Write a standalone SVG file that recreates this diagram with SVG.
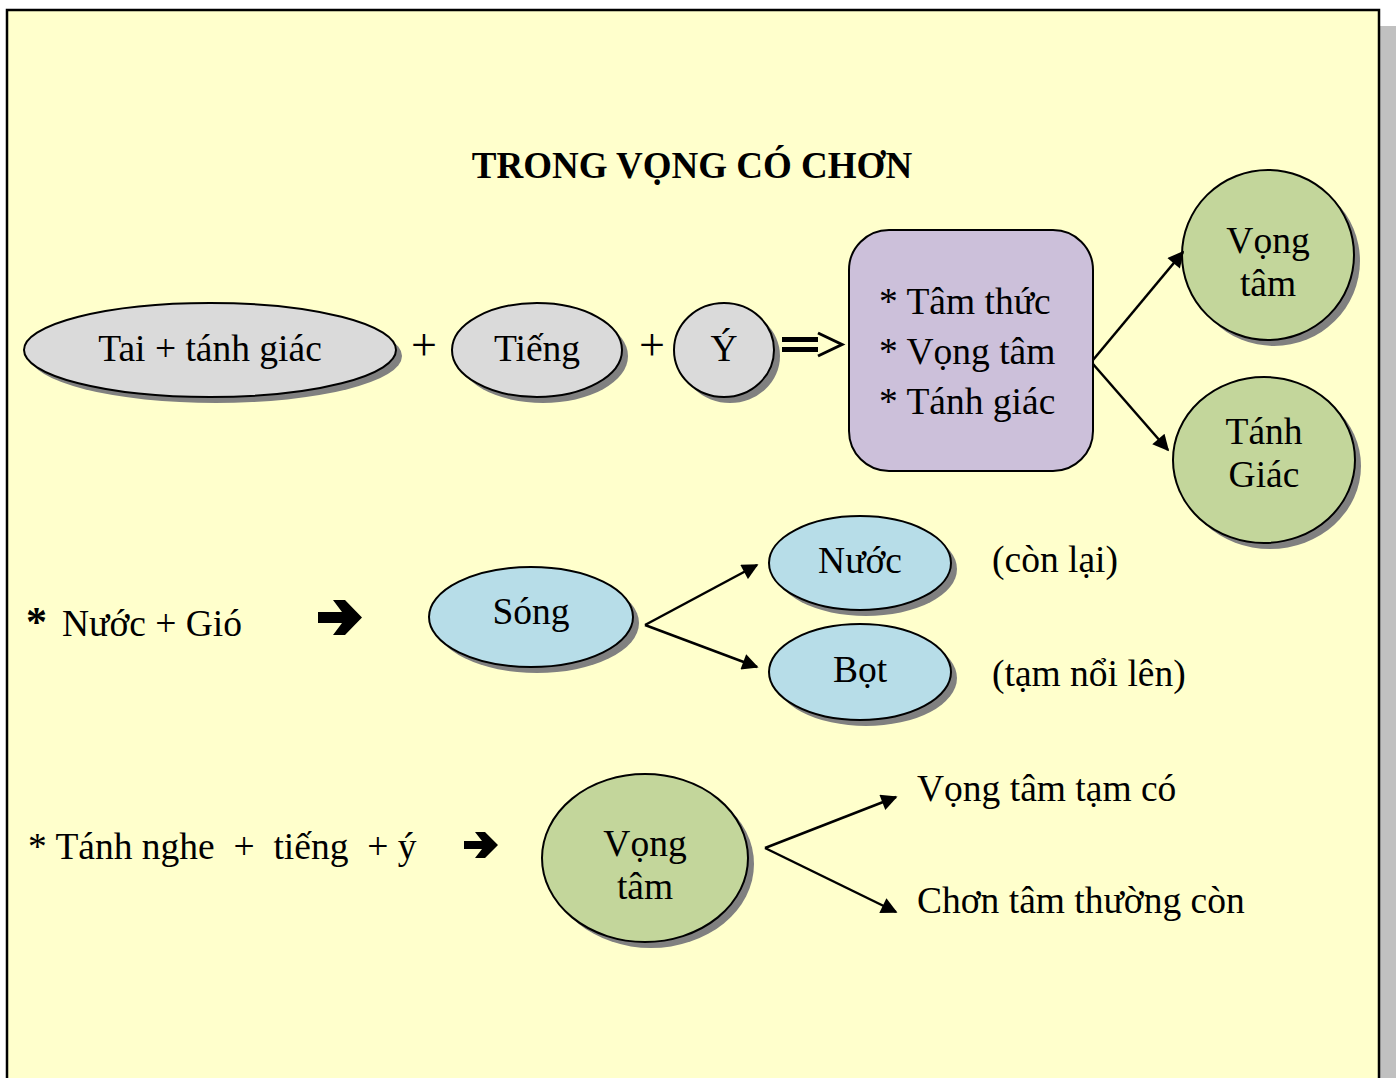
<svg xmlns="http://www.w3.org/2000/svg" width="1396" height="1078" viewBox="0 0 1396 1078">
<defs>
<style>
text{font-family:"Liberation Serif","Times New Roman",serif;fill:#000;}
.t{font-size:37.5px;text-anchor:middle;}
.l{font-size:37.5px;}
.plus{font-size:46px;text-anchor:middle;}
.sh{fill:#808080;}
.node{stroke:#000;stroke-width:2;}
.grey{fill:#dadada;}
.blue{fill:#b7dde8;}
.green{fill:#c3d69b;}
.conn line{stroke:#000;stroke-width:2.5;}
</style>
<marker id="ah" viewBox="0 0 10 10" refX="9" refY="5" markerWidth="7.5" markerHeight="6.5" orient="auto" markerUnits="strokeWidth">
<path d="M0,0 L10,5 L0,10 z" fill="#000"/>
</marker>
</defs>
<rect x="0" y="0" width="1396" height="1078" fill="#fff"/>
<rect x="1380" y="26" width="16" height="1052" fill="#c0c0c0"/>
<rect x="7" y="10" width="1372" height="1080" fill="#ffffcc" stroke="#000" stroke-width="2.5"/>
<text x="692" y="178" style="font-size:37px;font-weight:bold;text-anchor:middle;">TRONG VỌNG CÓ CHƠN</text>

<g id="n-tai">
<ellipse class="sh" cx="216" cy="356" rx="186" ry="47"/>
<ellipse class="node grey" cx="210" cy="350" rx="186" ry="47"/>
<text class="t" x="210" y="361">Tai + tánh giác</text>
</g>
<text class="plus" x="424" y="360">+</text>
<g id="n-tieng">
<ellipse class="sh" cx="543" cy="356" rx="85" ry="47"/>
<ellipse class="node grey" cx="537" cy="350" rx="85" ry="47"/>
<text class="t" x="537" y="361">Tiếng</text>
</g>
<text class="plus" x="652" y="360">+</text>
<g id="n-y">
<ellipse class="sh" cx="730" cy="356" rx="50" ry="47"/>
<ellipse class="node grey" cx="724" cy="350" rx="50" ry="47"/>
<text class="t" x="724" y="361">Ý</text>
</g>
<g id="implies">
<rect x="782" y="337" width="36" height="5" fill="#000"/>
<rect x="782" y="347" width="36" height="5" fill="#000"/>
<path d="M818,333 L842,344.5 L818,356" fill="none" stroke="#000" stroke-width="3"/>
</g>
<g id="n-box">
<rect x="849" y="230" width="244" height="241" rx="40" ry="40" fill="#ccc0da" stroke="#000" stroke-width="2"/>
<text class="l" x="879" y="314">* Tâm thức</text>
<text class="l" x="879" y="364">* Vọng tâm</text>
<text class="l" x="879" y="414">* Tánh giác</text>
</g>
<g id="n-vongtam1">
<ellipse class="sh" cx="1274" cy="261" rx="86" ry="85"/>
<ellipse class="node green" cx="1268" cy="255" rx="86" ry="85"/>
<text class="t" x="1268" y="253">Vọng</text>
<text class="t" x="1268" y="296">tâm</text>
</g>
<g id="n-tanhgiac">
<ellipse class="sh" cx="1270" cy="466" rx="91" ry="83"/>
<ellipse class="node green" cx="1264" cy="460" rx="91" ry="83"/>
<text class="t" x="1264" y="444">Tánh</text>
<text class="t" x="1264" y="487">Giác</text>
</g>

<g id="t-nuocgio">
<text x="26" y="636" style="font-size:42px;font-weight:bold;">*</text>
<text class="l" x="62" y="636">Nước + Gió</text>
</g>
<g id="arr1"><path d="M318,612 L342,612 L333,600 L345,600 L362,617.5 L345,635 L333,635 L342,623 L318,623 z" fill="#000"/></g>
<g id="n-song">
<ellipse class="sh" cx="537" cy="623" rx="102" ry="50"/>
<ellipse class="node blue" cx="531" cy="617" rx="102" ry="50"/>
<text class="t" x="531" y="624">Sóng</text>
</g>
<g id="n-nuoc">
<ellipse class="sh" cx="866" cy="569" rx="91" ry="47"/>
<ellipse class="node blue" cx="860" cy="563" rx="91" ry="47"/>
<text class="t" x="860" y="573">Nước</text>
</g>
<g id="n-bot">
<ellipse class="sh" cx="866" cy="678" rx="91" ry="48"/>
<ellipse class="node blue" cx="860" cy="672" rx="91" ry="48"/>
<text class="t" x="860" y="682">Bọt</text>
</g>
<text class="l" x="992" y="572">(còn lại)</text>
<text class="l" x="992" y="686">(tạm nổi lên)</text>

<text class="l" x="28" y="859" xml:space="preserve">* Tánh nghe  +  tiếng  + ý</text>
<g id="arr2"><path d="M464,841 L482,841 L475,832 L485,832 L498,845 L485,858 L475,858 L482,849 L464,849 z" fill="#000"/></g>
<g id="n-vongtam2">
<ellipse class="sh" cx="651" cy="864" rx="103" ry="84"/>
<ellipse class="node green" cx="645" cy="858" rx="103" ry="84"/>
<text class="t" x="645" y="856">Vọng</text>
<text class="t" x="645" y="899">tâm</text>
</g>
<text class="l" x="917" y="801">Vọng tâm tạm có</text>
<text class="l" x="917" y="913">Chơn tâm thường còn</text>

<g id="connectors" class="conn">
<line x1="1093" y1="360" x2="1183" y2="252" marker-end="url(#ah)"/>
<line x1="1093" y1="364" x2="1168" y2="450" marker-end="url(#ah)"/>
<line x1="645" y1="625" x2="757" y2="565" marker-end="url(#ah)"/>
<line x1="645" y1="625" x2="757" y2="667" marker-end="url(#ah)"/>
<line x1="765" y1="848" x2="896" y2="797" marker-end="url(#ah)"/>
<line x1="765" y1="848" x2="896" y2="912" marker-end="url(#ah)"/>
</g>
</svg>
